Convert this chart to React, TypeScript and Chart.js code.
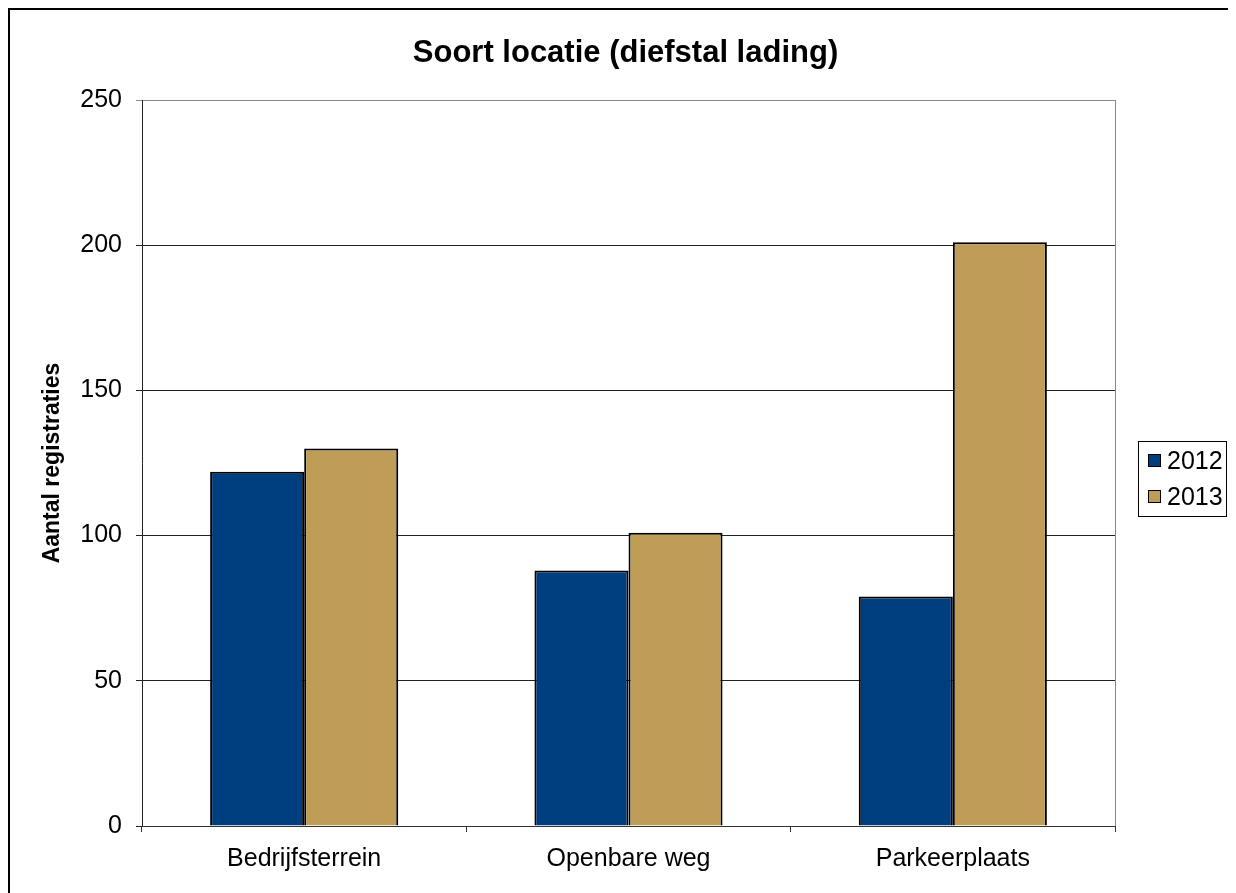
import React, { useEffect, useRef } from "react";
import { Chart, registerables } from "chart.js";

Chart.register(...registerables);

const categories = ["Bedrijfsterrein", "Openbare weg", "Parkeerplaats"];
const seriesLabels = ["2012", "2013"];
const values2012 = [122, 88, 79];
const values2013 = [130, 101, 201];
const seriesColors = ["#003F7F", "#BF9D56"];
const chartTitle = "Soort locatie (diefstal lading)";
const yAxisTitle = "Aantal registraties";
const yMin = 0;
const yMax = 250;
const yStep = 50;

const FONT = '"Liberation Sans", Arial, Helvetica, sans-serif';

const decorPlugin = {
  id: "decor",
  afterDraw(chart: any) {
    const ctx = chart.ctx as CanvasRenderingContext2D;
    const { left, right, top, bottom } = chart.chartArea;
    ctx.save();
    // plot area right border
    ctx.strokeStyle = "#888";
    ctx.lineWidth = 1;
    ctx.beginPath();
    ctx.moveTo(Math.round(right) + 0.5, top);
    ctx.lineTo(Math.round(right) + 0.5, bottom);
    ctx.stroke();

    // title
    ctx.fillStyle = "#000";
    ctx.font = `bold 31px ${FONT}`;
    ctx.textAlign = "center";
    ctx.textBaseline = "middle";
    ctx.fillText(chartTitle, (left + right) / 2 - 3, 43);

    // legend
    const lx = 1128, ly = 431, lw = 88, lh = 75;
    ctx.strokeStyle = "#000";
    ctx.lineWidth = 1;
    ctx.strokeRect(lx + 0.5, ly + 0.5, lw, lh);
    ctx.font = `25px ${FONT}`;
    ctx.textAlign = "left";
    chart.data.datasets.forEach((ds: any, i: number) => {
      const cy = ly + 20 + i * 36;
      ctx.fillStyle = ds.backgroundColor;
      ctx.fillRect(lx + 10, cy - 7, 13, 13);
      ctx.strokeStyle = "#000";
      ctx.lineWidth = 1;
      ctx.strokeRect(lx + 10.5, cy - 6.5, 12, 12);
      ctx.fillStyle = "#000";
      ctx.fillText(ds.label, lx + 29, cy + 1);
    });
    ctx.restore();
  },
};

export default function App() {
  const ref = useRef<HTMLCanvasElement | null>(null);

  useEffect(() => {
    document.documentElement.style.overflow = "hidden";
    document.body.style.overflow = "hidden";
    if (!ref.current) return;
    const chart = new Chart(ref.current, {
      type: "bar",
      data: {
        labels: categories,
        datasets: [
          {
            label: seriesLabels[0],
            data: values2012,
            backgroundColor: seriesColors[0],
            borderColor: "#000",
            borderWidth: 2,
            barPercentage: 1,
            categoryPercentage: 0.58,
          },
          {
            label: seriesLabels[1],
            data: values2013,
            backgroundColor: seriesColors[1],
            borderColor: "#000",
            borderWidth: 2,
            barPercentage: 1,
            categoryPercentage: 0.58,
          },
        ],
      },
      options: {
        responsive: false,
        animation: false,
        layout: { padding: { left: 20, right: 121, top: 90, bottom: 0 } },
        plugins: {
          legend: { display: false },
          title: { display: false },
          tooltip: { enabled: false },
        },
        scales: {
          x: {
            afterFit: (s: any) => {
              s.height = 67;
            },
            grid: {
              offset: true,
              drawOnChartArea: false,
              drawTicks: true,
              tickLength: 6,
              color: "#333",
            },
            border: { display: true, color: "#333", width: 1 },
            ticks: {
              color: "#000",
              padding: 12,
              font: { family: FONT, size: 25 },
            },
          },
          y: {
            min: yMin,
            max: yMax,
            afterFit: (s: any) => {
              s.width = 112;
            },
            ticks: {
              stepSize: yStep,
              color: "#000",
              padding: 14,
              font: { family: FONT, size: 25 },
            },
            grid: {
              color: (c: any) => (c.tick && c.tick.value === yMax ? "#888" : "#222"),
              lineWidth: 1,
              drawTicks: true,
              tickLength: 6,
            },
            border: { display: true, color: "#222", width: 1 },
            title: {
              display: true,
              text: yAxisTitle,
              color: "#000",
              font: { family: FONT, size: 23, weight: "bold" },
              padding: { top: 9, bottom: 0 },
            },
          },
        },
      },
      plugins: [decorPlugin],
    } as any);
    return () => chart.destroy();
  }, []);

  return (
    <div
      style={{
        borderLeft: "2px solid #000",
        borderTop: "2px solid #000",
        width: 1226,
        height: 883,
      }}
    >
      <canvas ref={ref} width={1226} height={883} style={{ display: "block", width: 1226, height: 883 }} />
    </div>
  );
}
